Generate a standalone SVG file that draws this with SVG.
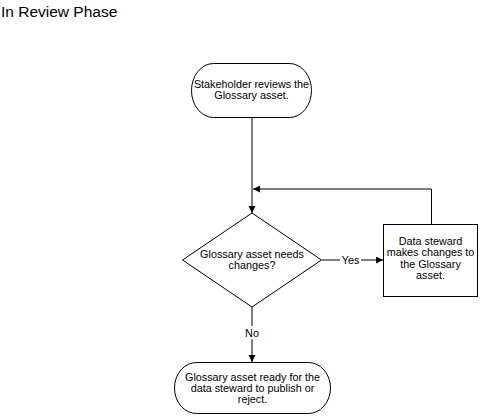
<svg xmlns="http://www.w3.org/2000/svg" width="480" height="417" viewBox="0 0 480 417">
<style>
text{font-family:"Liberation Sans",Arial,sans-serif;fill:#000}
.t{font-size:10.8px;text-anchor:middle}
.shape{fill:#fff;stroke:#000;stroke-width:1}
.conn{fill:none;stroke:#000;stroke-width:1}
.lbl{font-size:10.8px;text-anchor:middle}
</style>
<defs>
<marker id="ah" markerUnits="userSpaceOnUse" markerWidth="8" markerHeight="8" refX="7" refY="3.5" orient="auto">
<path d="M0,0 L7,3.5 L0,7 z" fill="#000"/>
</marker>
</defs>
<rect width="480" height="417" fill="#fff"/>
<text x="1" y="16.5" style="font-size:15.5px">In Review Phase</text>
<g id="connectors">
<line class="conn" x1="252" y1="117" x2="252" y2="213" marker-end="url(#ah)"/>
<polyline class="conn" points="431.5,224 431.5,189 253,189" marker-end="url(#ah)"/>
<line class="conn" x1="322" y1="260" x2="383" y2="260" marker-end="url(#ah)"/>
<line class="conn" x1="252" y1="307" x2="252" y2="362" marker-end="url(#ah)"/>
<rect x="340" y="253" width="21" height="13" fill="#fff"/>
<text class="lbl" x="350.5" y="264">Yes</text>
<rect x="244" y="326" width="16" height="13" fill="#fff"/>
<text class="lbl" x="252" y="337">No</text>
</g>
<g id="start">
<rect class="shape" x="191.5" y="63.5" width="120" height="54" rx="22" ry="27"/>
<text class="t" x="251.5" y="87.5">Stakeholder reviews the</text>
<text class="t" x="251.5" y="98.5">Glossary asset.</text>
</g>
<g id="decision">
<polygon class="shape" points="252,213 321.5,260 252,307 182.5,260"/>
<text class="t" x="252" y="258">Glossary asset needs</text>
<text class="t" x="252" y="269">changes?</text>
</g>
<g id="steward">
<rect class="shape" x="383.5" y="224.5" width="94" height="72"/>
<text class="t" x="430.5" y="244.5">Data steward</text>
<text class="t" x="430.5" y="256">makes changes to</text>
<text class="t" x="430.5" y="267.5">the Glossary</text>
<text class="t" x="430.5" y="279">asset.</text>
</g>
<g id="end">
<rect class="shape" x="174.5" y="362.5" width="156" height="51" rx="22" ry="25.5"/>
<text class="t" x="252.5" y="381">Glossary asset ready for the</text>
<text class="t" x="252.5" y="392">data steward to publish or</text>
<text class="t" x="252.5" y="403">reject.</text>
</g>
</svg>
